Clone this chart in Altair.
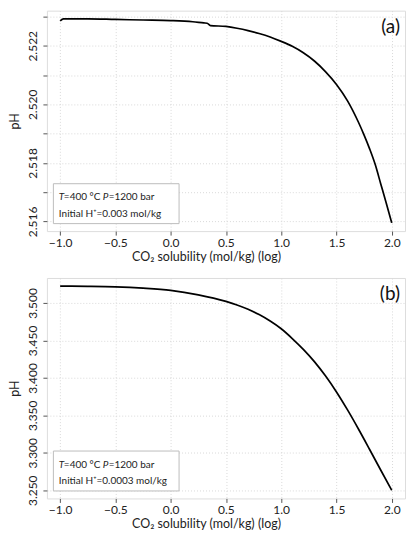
import altair as alt
import pandas as pd

# ---- data ----
xa = [-1.0, -0.97, -0.75, -0.5, -0.25, 0.0, 0.2, 0.30, 0.33, 0.36, 0.5, 0.6, 0.7,
      0.8, 0.9, 1.0, 1.1, 1.2, 1.3, 1.4, 1.5, 1.6, 1.7, 1.75, 1.8, 1.85, 1.9, 1.95, 2.0]
pha = [2.52285, 2.52292, 2.52292, 2.52290, 2.52288, 2.52286, 2.52282, 2.52278, 2.52277,
       2.52269, 2.52266, 2.52260, 2.52252, 2.52242, 2.52230, 2.52215, 2.52198, 2.52176,
       2.52148, 2.52112, 2.52068, 2.52012, 2.51938, 2.51895, 2.51848, 2.51795, 2.51729,
       2.51663, 2.51595]

xb = [-1.0, -0.75, -0.5, -0.25, 0.0, 0.25, 0.5, 0.6, 0.7, 0.8, 0.9, 1.0, 1.1, 1.2, 1.3,
      1.4, 1.5, 1.6, 1.7, 1.8, 1.9, 2.0]
phb = [3.5224, 3.5221, 3.5214, 3.5197, 3.5168, 3.5108, 3.5020, 3.4973, 3.4915, 3.4844,
       3.4758, 3.4655, 3.4525, 3.4380, 3.4217, 3.4027, 3.3812, 3.3572, 3.3314, 3.3044,
       3.2770, 3.2500]

x_ticks = [-1.0, -0.5, 0.0, 0.5, 1.0, 1.5, 2.0]
ya_ticks = [2.516, 2.517, 2.518, 2.519, 2.520, 2.521, 2.522, 2.523]
yb_ticks = [3.250, 3.300, 3.350, 3.400, 3.450, 3.500]

x_title = "CO\u2082 solubility (mol/kg) (log)"
panel_labels = ["(a)", "(b)"]
line1 = ["T", "=400 \u00b0C", "P", "=1200 bar"]
line2 = ["Initial H\u207a=0.003 mol/kg", "Initial H\u207a=0.0003 mol/kg"]

W, H = 359, 221
FONT = "Lato"
FRAME = "#555555"


def panel(xs, ys, ydom, yticks, label_expr, tag, note):
    df = pd.DataFrame({"x": xs, "y": ys})
    base = alt.Chart(df)
    line = base.mark_line(color="black", strokeWidth=1.7, interpolate="monotone").encode(
        x=alt.X("x:Q",
                scale=alt.Scale(domain=[-1.12, 2.12], nice=False, zero=False),
                axis=alt.Axis(values=x_ticks, format=".1f", title=x_title,
                              grid=True, gridColor="#d9d9d9", gridDash=[1, 2],
                              domain=False, tickColor=FRAME, tickSize=4,
                              labelPadding=2, labelFontSize=12, labelColor="#222",
                              titleFontSize=12.5, titleFontWeight="normal",
                              titleColor="#222", titlePadding=2, titleX=159.5,
                              labelFont=FONT, titleFont=FONT, labelFlush=False)),
        y=alt.Y("y:Q",
                scale=alt.Scale(domain=ydom, nice=False, zero=False),
                axis=alt.Axis(values=yticks, labelExpr=label_expr, title="pH",
                              grid=True, gridColor="#d9d9d9", gridDash=[1, 2],
                              domain=False, tickColor=FRAME, tickSize=4,
                              labelAngle=-90, labelAlign="center",
                              labelBaseline="bottom", labelPadding=3,
                              labelFontSize=12, labelColor="#222",
                              labelOverlap=False, labelFlush=False,
                              titleFontSize=12.5, titleFontWeight="normal",
                              titleColor="#222", titlePadding=5,
                              labelFont=FONT, titleFont=FONT)),
    )
    one = pd.DataFrame({"k": [0]})
    ob = alt.Chart(one)
    box = ob.mark_rect(fill="white", stroke="#bdbdbd", strokeWidth=1).encode(
        x=alt.value(6.5), x2=alt.value(132.5), y=alt.value(173.5), y2=alt.value(213.5))
    tsty = dict(font=FONT, fontSize=10, color="#222", baseline="middle", align="left")
    t1 = ob.mark_text(fontStyle="italic", **tsty).encode(
        x=alt.value(12), y=alt.value(187), text=alt.value(line1[0]))
    t2 = ob.mark_text(**tsty).encode(
        x=alt.value(17), y=alt.value(187), text=alt.value(line1[1]))
    t3 = ob.mark_text(fontStyle="italic", **tsty).encode(
        x=alt.value(56), y=alt.value(187), text=alt.value(line1[2]))
    t4 = ob.mark_text(**tsty).encode(
        x=alt.value(62), y=alt.value(187), text=alt.value(line1[3]))
    t5 = ob.mark_text(**tsty).encode(
        x=alt.value(12), y=alt.value(203.5), text=alt.value(note))
    tg = ob.mark_text(font=FONT, fontSize=19, color="#111", align="right",
                      baseline="middle").encode(
        x=alt.value(354), y=alt.value(16), text=alt.value(tag))
    return alt.layer(line, box, t1, t2, t3, t4, t5, tg).properties(width=W, height=H)


pa = panel(xa, pha, [2.51567, 2.52320], ya_ticks,
           "round(datum.value*1000) % 2 == 0 ? format(datum.value, '.3f') : ''",
           panel_labels[0], line2[0])
pb = panel(xb, phb, [3.2391, 3.5333], yb_ticks,
           "format(datum.value, '.3f')", panel_labels[1], line2[1])

chart = alt.vconcat(pa, pb, spacing=14).properties(
    padding={"left": 0, "top": 1, "right": 0, "bottom": 0}
).configure_view(stroke=FRAME, strokeWidth=1).configure(font=FONT)

chart.save("out.html", embed_options={"renderer": "svg", "actions": False})
